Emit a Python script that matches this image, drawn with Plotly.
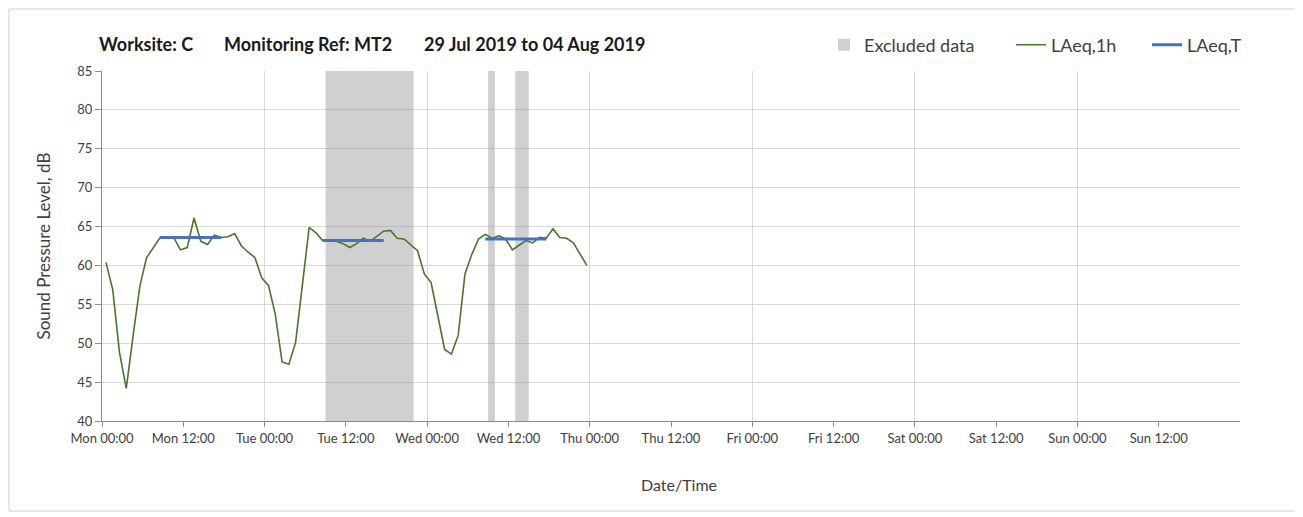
import pandas as pd
import plotly.graph_objects as go

# ---- data ----
start_time = "2019-07-29 00:35"
laeq_1h = [60.4, 56.9, 48.8, 44.2, 50.9, 57.3, 61.0, 62.3, 63.6, 63.6, 63.6, 62.0,
           62.3, 66.1, 63.1, 62.7, 63.9, 63.6, 63.7, 64.1, 62.5, 61.7, 61.0, 58.4,
           57.4, 53.7, 47.6, 47.3, 50.1, 57.5, 64.9, 64.2, 63.2, 63.3, 63.1, 62.8,
           62.3, 62.8, 63.5, 63.1, 63.8, 64.4, 64.5, 63.5, 63.4, 62.7, 61.9, 58.9,
           57.8, 53.5, 49.2, 48.6, 51.0, 58.9, 61.4, 63.4, 64.0, 63.5, 63.8, 63.4,
           62.0, 62.6, 63.2, 62.9, 63.6, 63.5, 64.7, 63.6, 63.5, 62.9, 61.4, 60.0]
# LAeq,T periods (first/last hourly index) and values
laeq_t_first = [8, 32, 56]
laeq_t_last = [17, 41, 65]
laeq_t_vals = [63.6, 63.2, 63.4]
# Excluded data periods
excl_start = ["2019-07-30 09:00", "2019-07-31 09:00", "2019-07-31 13:00"]
excl_end = ["2019-07-30 22:00", "2019-07-31 10:00", "2019-07-31 15:00"]
# axis
x_start = "2019-07-29 00:00"
x_end = "2019-08-05 00:00"
y_min, y_max, y_step = 40, 85, 5
title_parts = ["Worksite: C", "Monitoring Ref: MT2", "29 Jul 2019 to 04 Aug 2019"]
x_title = "Date/Time"
y_title = "Sound Pressure Level, dB"

times = pd.date_range(start_time, periods=len(laeq_1h), freq="h")
tick_times = pd.date_range(x_start, x_end, freq="12h")[:-1]
tick_text = [t.strftime("%a %H:%M") for t in tick_times]
grid_times = pd.date_range(x_start, x_end, freq="24h")

FONT = "Lato"
GREEN = "#4A752C"
BLUE = "#4472C4"
TXT = "#404040"

OFF = 8  # page body margin
W, H = 1303 - OFF, 517 - OFF
# plot area in page pixels
PX0, PX1, PY0, PY1 = 102, 1240, 71, 421
L, R, T, B = PX0 - OFF, W - (PX1 - OFF), PY0 - OFF, H - (PY1 - OFF)
PW, PH = W - L - R, H - T - B


def px_x(p):
    return (p - OFF - L) / PW


def px_y(p):
    return (H - B - (p - OFF)) / PH


fig = go.Figure()

# excluded data bands
es = pd.to_datetime(excl_start)
ee = pd.to_datetime(excl_end)
fig.add_trace(go.Bar(
    x=[a + (b - a) / 2 for a, b in zip(es, ee)],
    y=[y_max - y_min] * len(es),
    base=[y_min] * len(es),
    width=[(b - a).total_seconds() * 1000 for a, b in zip(es, ee)],
    marker=dict(color="rgba(150,150,150,0.45)", line=dict(width=0)),
    name="Excluded data", hoverinfo="skip", legend="legend", showlegend=True,
))

fig.add_trace(go.Scatter(
    x=times, y=laeq_1h, mode="lines", name="LAeq,1h",
    line=dict(color=GREEN, width=1.6), legend="legend2",
))

# LAeq,T on overlay axis (drawn on top)
for i, (f, l, v) in enumerate(zip(laeq_t_first, laeq_t_last, laeq_t_vals)):
    fig.add_trace(go.Scatter(
        x=[times[f], times[l]], y=[v, v], mode="lines", name="LAeq,T",
        line=dict(color=BLUE, width=3), xaxis="x2",
        showlegend=(i == 0), legendgroup="t", legend="legend3",
    ))

leg_common = dict(orientation="h", xanchor="left", yanchor="middle", y=px_y(45),
                  font=dict(family=FONT, size=18, color=TXT),
                  bgcolor="rgba(0,0,0,0)")

title_x = [97, 222, 422]
annotations = [dict(text=f"<b>{t}</b>", xref="paper", yref="paper",
                    x=px_x(xp), y=px_y(44), xanchor="left", yanchor="middle",
                    showarrow=False, font=dict(family=FONT, size=18, color="#1a1a1a"))
               for t, xp in zip(title_parts, title_x)]
annotations.append(dict(text=x_title, xref="paper", yref="paper",
                        x=px_x(679), y=px_y(484), xanchor="center", yanchor="middle",
                        showarrow=False, font=dict(family=FONT, size=16, color=TXT)))

fig.update_layout(
    width=W, height=H,
    margin=dict(l=L, r=R, t=T, b=B, autoexpand=False),
    paper_bgcolor="white", plot_bgcolor="white",
    barmode="overlay", showlegend=True,
    font=dict(family=FONT, color=TXT),
    annotations=annotations,
    legend=dict(leg_common, x=px_x(824)),
    legend2=dict(leg_common, x=px_x(1011)),
    legend3=dict(leg_common, x=px_x(1147)),
    xaxis=dict(
        range=[x_start, x_end], type="date", automargin=False,
        tickmode="array", tickvals=tick_times, ticktext=tick_text,
        showgrid=False, zeroline=False,
        showline=True, linecolor="#8c8c8c", linewidth=1.3,
        ticks="outside", ticklen=5, tickcolor="#8c8c8c", tickwidth=1.3,
        tickfont=dict(family=FONT, size=13, color=TXT),
    ),
    xaxis2=dict(
        range=[x_start, x_end], type="date", overlaying="x", automargin=False,
        tickmode="array", tickvals=grid_times, showticklabels=False,
        showgrid=True, gridcolor="#d9d9d9", gridwidth=1.3,
        ticks="", showline=False, zeroline=False,
    ),
    yaxis=dict(
        range=[y_min, y_max], dtick=y_step, tick0=y_min, automargin=False,
        showgrid=True, gridcolor="#d9d9d9", gridwidth=1.3, zeroline=False,
        showline=True, linecolor="#8c8c8c", linewidth=1.3,
        ticks="outside", ticklen=6, tickcolor="#8c8c8c", tickwidth=1.3,
        tickfont=dict(family=FONT, size=13, color=TXT),
        title=dict(text=y_title, font=dict(family=FONT, size=17, color=TXT), standoff=22),
    ),
    shapes=[dict(
        type="rect", xref="paper", yref="paper",
        x0=px_x(9), x1=px_x(1300), y0=px_y(511), y1=px_y(9),
        line=dict(color="#d0d0d0", width=1), fillcolor="rgba(0,0,0,0)", layer="below",
    )],
)

fig.write_html("out.html")
